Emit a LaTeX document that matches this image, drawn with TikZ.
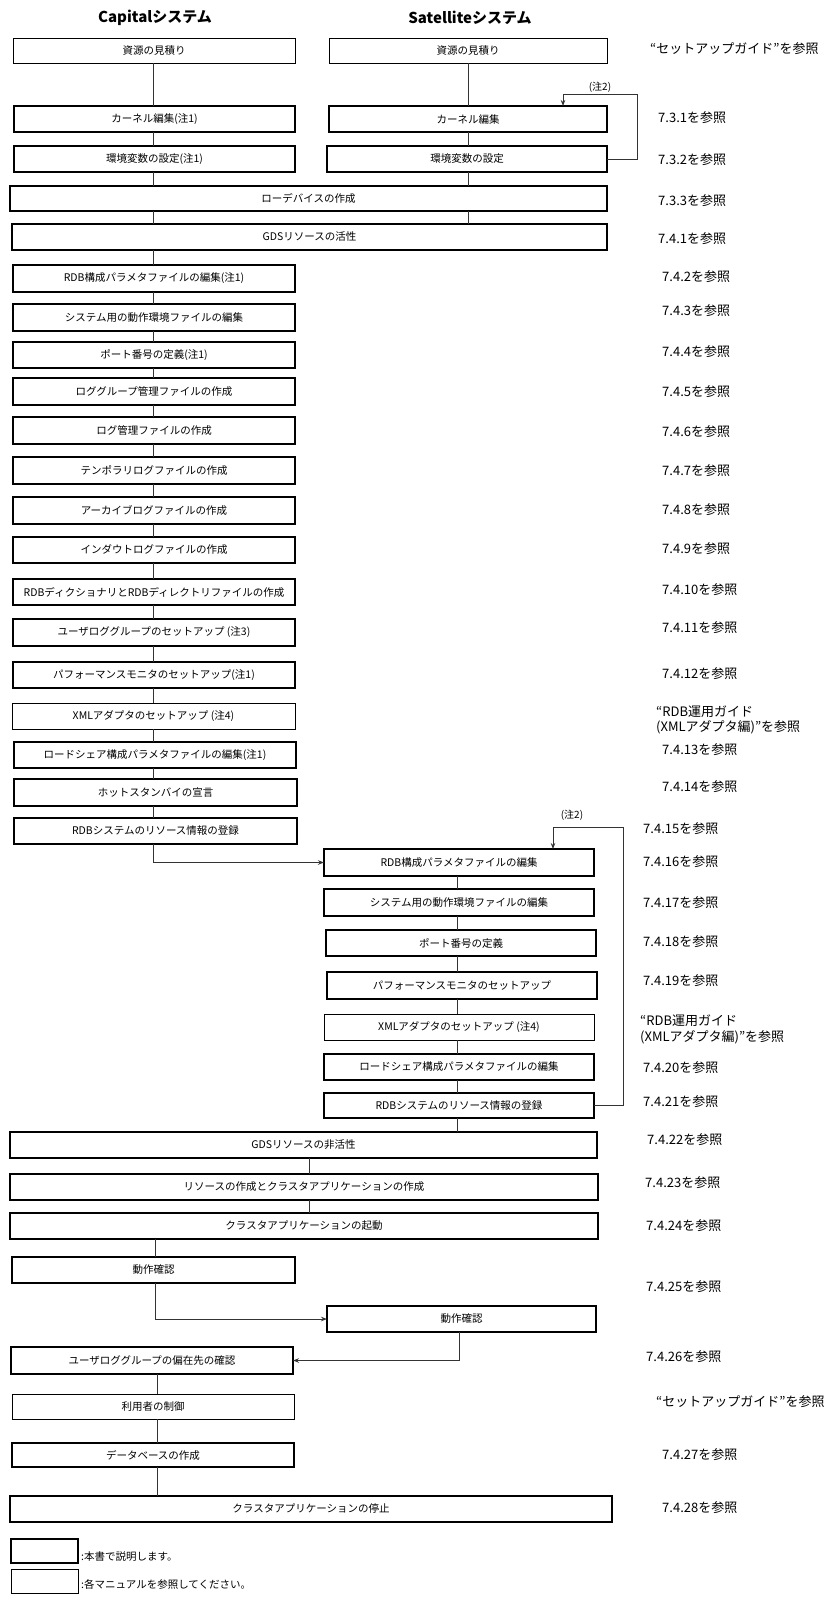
\documentclass[tikz,border=0pt]{standalone}
\usepackage{fontspec}
\setmainfont{Noto Sans CJK JP}
\usetikzlibrary{arrows.meta,calc}
\newcommand\fsbox{\fontsize{10.5pt}{12pt}\selectfont}
\newcommand\fsref{\fontsize{13pt}{16pt}\selectfont}
\newcommand\fstitle{\fontsize{15pt}{18pt}\selectfont\bfseries}
\newcommand\fsnote{\fontsize{10pt}{11pt}\selectfont}
\newcommand\mkbox[7]{\node[#2, minimum width={(#5-#3)*1pt}, minimum height={(#6-#4)*1pt}] (#1) at ({(#3+#5)/2},{(#4+#6)/2}) {#7};}
\tikzset{
  basebox/.style={draw=black, inner sep=0pt, outer sep=0pt, font=\fsbox, fill=white},
  thickbox/.style={basebox, line width=2pt},
  thinbox/.style={basebox, line width=0.9pt},
  conn/.style={draw=black!80, line width=0.9pt},
  arr/.style={-{Stealth[length=6pt,width=4.5pt]}},
  reftxt/.style={anchor=west, font=\fsref, inner sep=0pt},
  ttl/.style={font=\fstitle, inner sep=0pt},
  note/.style={font=\fsnote, inner sep=0pt},
  legtxt/.style={anchor=west, font=\fsbox, inner sep=0pt},
}
\begin{document}
\begin{tikzpicture}[x=1pt,y=-1pt]
\fill[white] (0,0) rectangle (827,1609);
\useasboundingbox (0,0) rectangle (827,1609);
% titles
\node[ttl] (tC) at (155,18) {Capitalシステム};
\node[ttl] (tS) at (470,18) {Satelliteシステム};
% top boxes
\mkbox{L0}{thinbox}{13}{38}{295}{63}{資源の見積り}
\mkbox{R0}{thinbox}{329}{38}{607}{63}{資源の見積り}
\mkbox{L1}{thickbox}{14}{106}{295}{132}{カーネル編集(注1)}
\mkbox{R1}{thickbox}{329}{106}{607}{132}{カーネル編集}
\mkbox{L2}{thickbox}{14}{146}{295}{172}{環境変数の設定(注1)}
\mkbox{R2}{thickbox}{327}{146}{607}{172}{環境変数の設定}
\mkbox{W1}{thickbox}{10}{186}{607}{211}{ローデバイスの作成}
\mkbox{W2}{thickbox}{12}{224}{607}{250}{GDSリソースの活性}
% left column
\mkbox{L3}{thickbox}{13}{265}{295}{292}{RDB構成パラメタファイルの編集(注1)}
\mkbox{L4}{thickbox}{13}{304}{295}{331}{システム用の動作環境ファイルの編集}
\mkbox{L5}{thickbox}{13}{342}{295}{368}{ポート番号の定義(注1)}
\mkbox{L6}{thickbox}{13}{378}{295}{405}{ロググループ管理ファイルの作成}
\mkbox{L7}{thickbox}{13}{417}{295}{444}{ログ管理ファイルの作成}
\mkbox{L8}{thickbox}{13}{457}{295}{484}{テンポラリログファイルの作成}
\mkbox{L9}{thickbox}{13}{497}{295}{524}{アーカイブログファイルの作成}
\mkbox{L10}{thickbox}{13}{537}{295}{563}{インダウトログファイルの作成}
\mkbox{L11}{thickbox}{13}{579}{295}{605}{RDBディクショナリとRDBディレクトリファイルの作成}
\mkbox{L12}{thickbox}{13}{619}{295}{646}{ユーザロググループのセットアップ (注3)}
\mkbox{L13}{thickbox}{13}{662}{295}{688}{パフォーマンスモニタのセットアップ(注1)}
\mkbox{L14}{thinbox}{12}{703}{295}{729}{XMLアダプタのセットアップ (注4)}
\mkbox{L15}{thickbox}{14}{742}{296}{768}{ロードシェア構成パラメタファイルの編集(注1)}
\mkbox{L16}{thickbox}{14}{779}{297}{806}{ホットスタンバイの宣言}
\mkbox{L17}{thickbox}{14}{818}{297}{844}{RDBシステムのリソース情報の登録}
% right column
\mkbox{R3}{thickbox}{324}{849}{594}{876}{RDB構成パラメタファイルの編集}
\mkbox{R4}{thickbox}{324}{889}{594}{916}{システム用の動作環境ファイルの編集}
\mkbox{R5}{thickbox}{326}{930}{596}{956}{ポート番号の定義}
\mkbox{R6}{thickbox}{327}{972}{597}{999}{パフォーマンスモニタのセットアップ}
\mkbox{R7}{thinbox}{324}{1014}{594}{1040}{XMLアダプタのセットアップ (注4)}
\mkbox{R8}{thickbox}{324}{1054}{594}{1080}{ロードシェア構成パラメタファイルの編集}
\mkbox{R9}{thickbox}{324}{1093}{594}{1118}{RDBシステムのリソース情報の登録}
% lower boxes
\mkbox{W3}{thickbox}{10}{1132}{597}{1158}{GDSリソースの非活性}
\mkbox{W4}{thickbox}{10}{1174}{598}{1200}{リソースの作成とクラスタアプリケーションの作成}
\mkbox{W5}{thickbox}{10}{1213}{598}{1239}{クラスタアプリケーションの起動}
\mkbox{L18}{thickbox}{12}{1257}{295}{1283}{動作確認}
\mkbox{R10}{thickbox}{327}{1306}{596}{1332}{動作確認}
\mkbox{L19}{thickbox}{11}{1347}{293}{1374}{ユーザロググループの偏在先の確認}
\mkbox{L20}{thinbox}{12}{1394}{294}{1419}{利用者の制御}
\mkbox{L21}{thickbox}{12}{1443}{294}{1467}{データベースの作成}
\mkbox{W6}{thickbox}{10}{1496}{612}{1522}{クラスタアプリケーションの停止}
% legend
\mkbox{LG1}{thickbox}{11}{1539}{78}{1563}{}
\mkbox{LG2}{thinbox}{11}{1569}{78}{1593}{}
\node[legtxt] (lt1) at (81,1557) {:本書で説明します。};
\node[legtxt] (lt2) at (81,1584) {:各マニュアルを参照してください。};
% coordinates
\coordinate (cL) at (153,0);
\coordinate (cS) at (468,0);
\coordinate (cR) at (457,0);
\coordinate (cW) at (309,0);
\coordinate (cM) at (155,0);
\coordinate (cB) at (157,0);
\coordinate (cT) at (459,0);
\coordinate (lp1a) at (637,94);
\coordinate (lp1b) at (563,94);
\coordinate (lp2a) at (623,827);
\coordinate (lp2b) at (553,827);
% connectors top
\draw[conn] (L0.south -| cL) -- (L1.north -| cL);
\draw[conn] (L1.south -| cL) -- (L2.north -| cL);
\draw[conn] (L2.south -| cL) -- (W1.north -| cL);
\draw[conn] (W1.south -| cL) -- (W2.north -| cL);
\draw[conn] (R0.south -| cS) -- (R1.north -| cS);
\draw[conn] (R1.south -| cS) -- (R2.north -| cS);
\draw[conn] (R2.south -| cS) -- (W1.north -| cS);
\draw[conn] (W1.south -| cS) -- (W2.north -| cS);
\draw[conn] (W2.south -| cL) -- (L3.north -| cL);
\draw[conn,arr] (R2.east) -| (lp1a) -- (lp1b) -- (lp1b |- R1.north);
\node[note] (n1) at (600,87) {(注2)};
% left chain
\foreach \a/\b in {L3/L4,L4/L5,L5/L6,L6/L7,L7/L8,L8/L9,L9/L10,L10/L11,L11/L12,L12/L13,L13/L14,L14/L15,L15/L16,L16/L17}{
  \draw[conn] (\a.south -| cL) -- (\b.north -| cL);
}
\draw[conn,arr] (L17.south -| cL) |- (R3.west);
% right chain
\foreach \a/\b in {R3/R4,R4/R5,R5/R6,R6/R7,R7/R8,R8/R9}{
  \draw[conn] (\a.south -| cR) -- (\b.north -| cR);
}
\draw[conn,arr] (R9.east) -| (lp2a) -- (lp2b) -- (lp2b |- R3.north);
\node[note] (n2) at (572,815) {(注2)};
\draw[conn] (R9.south -| cR) -- (W3.north -| cR);
\draw[conn] (W3.south -| cW) -- (W4.north -| cW);
\draw[conn] (W4.south -| cW) -- (W5.north -| cW);
\draw[conn] (W5.south -| cM) -- (L18.north -| cM);
\draw[conn,arr] (L18.south -| cM) |- (R10.west);
\draw[conn,arr] (R10.south -| cT) |- (L19.east);
\draw[conn] (L19.south -| cB) -- (L20.north -| cB);
\draw[conn] (L20.south -| cB) -- (L21.north -| cB);
\draw[conn] (L21.south -| cB) -- (W6.north -| cB);
% reference texts
\node[reftxt] (r00) at (650,49) {“セットアップガイド”を参照};
\node[reftxt] (r01) at (658,118) {7.3.1を参照};
\node[reftxt] (r02) at (658,160) {7.3.2を参照};
\node[reftxt] (r03) at (658,201) {7.3.3を参照};
\node[reftxt] (r04) at (658,239) {7.4.1を参照};
\node[reftxt] (r05) at (662,277) {7.4.2を参照};
\node[reftxt] (r06) at (662,311) {7.4.3を参照};
\node[reftxt] (r07) at (662,352) {7.4.4を参照};
\node[reftxt] (r08) at (662,392) {7.4.5を参照};
\node[reftxt] (r09) at (662,432) {7.4.6を参照};
\node[reftxt] (r10) at (662,471) {7.4.7を参照};
\node[reftxt] (r11) at (662,510) {7.4.8を参照};
\node[reftxt] (r12) at (662,549) {7.4.9を参照};
\node[reftxt] (r13) at (662,590) {7.4.10を参照};
\node[reftxt] (r14) at (662,628) {7.4.11を参照};
\node[reftxt] (r15) at (662,674) {7.4.12を参照};
\node[reftxt, align=left, font={\fontsize{13pt}{15pt}\selectfont}] (r16) at (656,720) {“RDB運用ガイド\\(XMLアダプタ編)”を参照};
\node[reftxt] (r17) at (662,750) {7.4.13を参照};
\node[reftxt] (r18) at (662,787) {7.4.14を参照};
\node[reftxt] (r19) at (643,829) {7.4.15を参照};
\node[reftxt] (r20) at (643,862) {7.4.16を参照};
\node[reftxt] (r21) at (643,903) {7.4.17を参照};
\node[reftxt] (r22) at (643,942) {7.4.18を参照};
\node[reftxt] (r23) at (643,981) {7.4.19を参照};
\node[reftxt, align=left, font={\fontsize{13pt}{16pt}\selectfont}] (r24) at (640,1029) {“RDB運用ガイド\\(XMLアダプタ編)”を参照};
\node[reftxt] (r25) at (643,1068) {7.4.20を参照};
\node[reftxt] (r26) at (643,1102) {7.4.21を参照};
\node[reftxt] (r27) at (647,1140) {7.4.22を参照};
\node[reftxt] (r28) at (645,1183) {7.4.23を参照};
\node[reftxt] (r29) at (646,1226) {7.4.24を参照};
\node[reftxt] (r30) at (646,1287) {7.4.25を参照};
\node[reftxt] (r31) at (646,1357) {7.4.26を参照};
\node[reftxt] (r32) at (656,1402) {“セットアップガイド”を参照};
\node[reftxt] (r33) at (662,1455) {7.4.27を参照};
\node[reftxt] (r34) at (662,1508) {7.4.28を参照};
\end{tikzpicture}
\end{document}
